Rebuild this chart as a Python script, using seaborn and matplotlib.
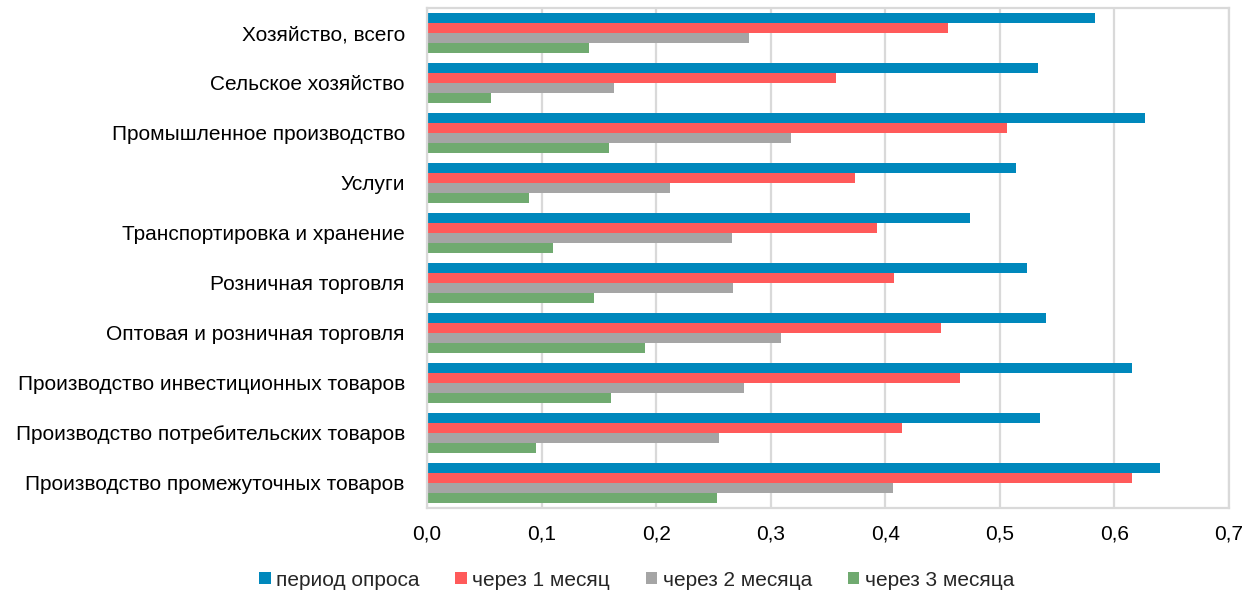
import matplotlib
matplotlib.use("Agg")
import matplotlib.pyplot as plt
from matplotlib.ticker import FuncFormatter, MultipleLocator
import pandas as pd
import seaborn as sns

categories = [
    "Хозяйство, всего",
    "Сельское хозяйство",
    "Промышленное производство",
    "Услуги",
    "Транспортировка и хранение",
    "Розничная торговля",
    "Оптовая и розничная торговля",
    "Производство инвестиционных товаров",
    "Производство потребительских товаров",
    "Производство промежуточных товаров",
]
series_names = ["период опроса", "через 1 месяц", "через 2 месяца", "через 3 месяца"]

survey_period = [0.583, 0.533, 0.627, 0.514, 0.474, 0.524, 0.540, 0.615, 0.535, 0.640]
after_1_month = [0.455, 0.357, 0.506, 0.374, 0.393, 0.408, 0.449, 0.465, 0.415, 0.615]
after_2_months = [0.281, 0.163, 0.318, 0.212, 0.266, 0.267, 0.309, 0.277, 0.255, 0.407]
after_3_months = [0.141, 0.056, 0.159, 0.089, 0.110, 0.146, 0.190, 0.161, 0.095, 0.253]

colors = ["#0088BC", "#FF5A5A", "#A5A5A5", "#70AA70"]

rows = []
for name, vals in zip(series_names,
                      [survey_period, after_1_month, after_2_months, after_3_months]):
    for cat, v in zip(categories, vals):
        rows.append({"category": cat, "value": v, "series": name})
df = pd.DataFrame(rows)

sns.set_theme(style="white")
plt.rcParams["font.family"] = ["Liberation Sans", "DejaVu Sans"]

fig = plt.figure(figsize=(12.58, 5.97), dpi=100)
ax = fig.add_axes([427 / 1258, 1 - 508 / 597, (1229 - 427) / 1258, (508 - 8) / 597])

sns.barplot(data=df, x="value", y="category", hue="series", order=categories,
            hue_order=series_names, palette=colors, orient="h", width=0.79,
            linewidth=0, saturation=1, ax=ax)

ax.set_xlim(0, 0.7)
ax.set_ylim(len(categories) - 0.5, -0.5)
ax.xaxis.set_major_locator(MultipleLocator(0.1))
ax.xaxis.set_major_formatter(FuncFormatter(lambda v, p: f"{v:.1f}".replace(".", ",")))
ax.grid(axis="x", color="#D9D9D9", linewidth=1.6)
ax.set_axisbelow(True)
for s in ax.spines.values():
    s.set_color("#D9D9D9")
    s.set_linewidth(1.6)
ax.set_xlabel("")
ax.set_ylabel("")
ax.tick_params(axis="both", length=0, labelsize=15, colors="black")
ax.tick_params(axis="y", pad=16)
ax.tick_params(axis="x", pad=12)

handles, labels = ax.get_legend_handles_labels()
ax.legend_.remove()
fig.legend(handles, labels, loc="center", bbox_to_anchor=(0.506, 1 - 580 / 597),
           ncol=4, frameon=False, fontsize=15, handlelength=0.55, handleheight=0.55,
           handletextpad=0.25, columnspacing=1.73)

fig.savefig("out.png", dpi=100)
